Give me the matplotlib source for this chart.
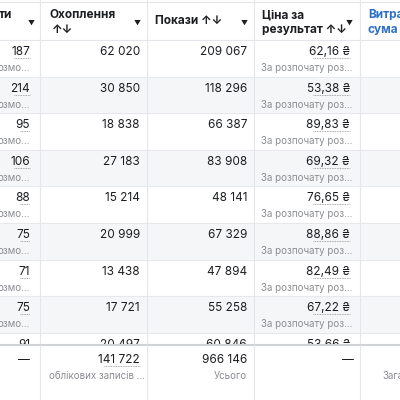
import matplotlib.pyplot as plt
from matplotlib.patches import Rectangle

plt.rcParams['font.family'] = ['Inter', 'DejaVu Sans']

results = ["187", "214", "95", "106", "88", "75", "71", "75", "91"]
reach = ["62 020", "30 850", "18 838", "27 183", "15 214", "20 999", "13 438", "17 721", "20 497"]
impressions = ["209 067", "118 296", "66 387", "83 908", "48 141", "67 329", "47 894", "55 258", "60 846"]
cost = ["62,16 ₴", "53,38 ₴", "89,83 ₴", "69,32 ₴", "76,65 ₴", "88,86 ₴", "82,49 ₴", "67,22 ₴", "53,66 ₴"]
total_reach = "141 722"
total_impr = "966 146"

DARK = "#1c1e21"
GREY = "#8a8d91"
LINE = "#e4e6eb"
BLUE = "#2d6fc5"

fig = plt.figure(figsize=(4, 4), dpi=100)
ax = fig.add_axes([0, 0, 1, 1])
ax.set_xlim(0, 400)
ax.set_ylim(400, 0)
ax.axis("off")

row_h = 36.6
top = 40
for i in range(len(results)):
    y0 = top + i * row_h
    if i % 2 == 1:
        ax.add_patch(Rectangle((0, y0), 400, row_h, color="#f5f6f7", zorder=0))
    ax.plot([0, 400], [y0, y0], color=LINE, lw=0.6, zorder=1)
    yt = y0 + 12
    ys = y0 + 28
    rk = dict(va="center", fontsize=8.5, color=DARK, zorder=2)
    ax.text(30, yt, results[i], ha="right", **rk)
    ax.plot([30 - 6 * len(results[i]) + 2, 30], [yt + 6, yt + 6], color=GREY, lw=0.6, ls=(0, (1, 1)), zorder=2)
    ax.text(-2, ys, "озмо...", ha="left", va="center", fontsize=7, color=GREY, zorder=2)
    ax.text(140, yt, reach[i], ha="right", **rk)
    ax.text(247, yt, impressions[i], ha="right", **rk)
    ax.text(350, yt, cost[i], ha="right", **rk)
    ax.plot([313, 350], [yt + 6, yt + 6], color=GREY, lw=0.6, ls=(0, (1, 1)), zorder=2)
    ax.text(261, ys, "За розпочату роз...", ha="left", va="center", fontsize=7, color=GREY, zorder=2)

for x in [40, 147, 254, 360]:
    ax.plot([x, x], [0, 400], color=LINE, lw=0.8, zorder=2)

# header
ax.add_patch(Rectangle((0, 0), 400, 40, color="white", zorder=3))
ax.plot([0, 400], [40, 40], color=LINE, lw=0.8, zorder=4)
ax.plot([0, 400], [2, 2], color=LINE, lw=0.8, zorder=4)
for x in [40, 147, 254, 360]:
    ax.plot([x, x], [0, 40], color=LINE, lw=0.8, zorder=4)
hk = dict(fontsize=8.5, fontweight="bold", color=DARK, va="center", ha="left", zorder=5)
ax.text(-1, 15, "ти", **hk)
ax.text(49, 15, "Охоплення", **hk)
ax.text(52, 30, "↑↓", **hk)
ax.text(155, 21, "Покази ↑↓", **hk)
ax.text(262, 15, "Ціна за", **hk)
ax.text(262, 30, "результат ↑↓", **hk)
hk["color"] = BLUE
ax.text(368, 15, "Витра", **hk)
ax.text(368, 30, "сума", **hk)
for x in [31, 137, 244, 349]:
    ax.text(x, 23, "▼", ha="center", va="center", fontsize=5, color=DARK, zorder=5)

# footer
ax.add_patch(Rectangle((0, 345), 400, 55, color="white", zorder=3))
ax.plot([0, 400], [345, 345], color="#d0d2d6", lw=1.5, zorder=4)
for x in [40, 147, 254, 360]:
    ax.plot([x, x], [345, 400], color=LINE, lw=0.8, zorder=4)
fk = dict(fontsize=8.5, color=DARK, va="center", zorder=5)
ax.text(30, 360, "—", ha="right", **fk)
ax.text(140, 360, total_reach, ha="right", **fk)
ax.plot([104, 140], [366, 366], color=GREY, lw=0.6, ls=(0, (1, 1)), zorder=5)
ax.text(247, 360, total_impr, ha="right", **fk)
ax.text(354, 360, "—", ha="right", **fk)
sk = dict(fontsize=7, color=GREY, va="center", zorder=5)
ax.text(49, 376, "облікових записів ...", ha="left", **sk)
ax.text(247, 376, "Усього", ha="right", **sk)
ax.text(382, 376, "Зага", ha="left", **sk)

fig.savefig("out.png", dpi=100)
